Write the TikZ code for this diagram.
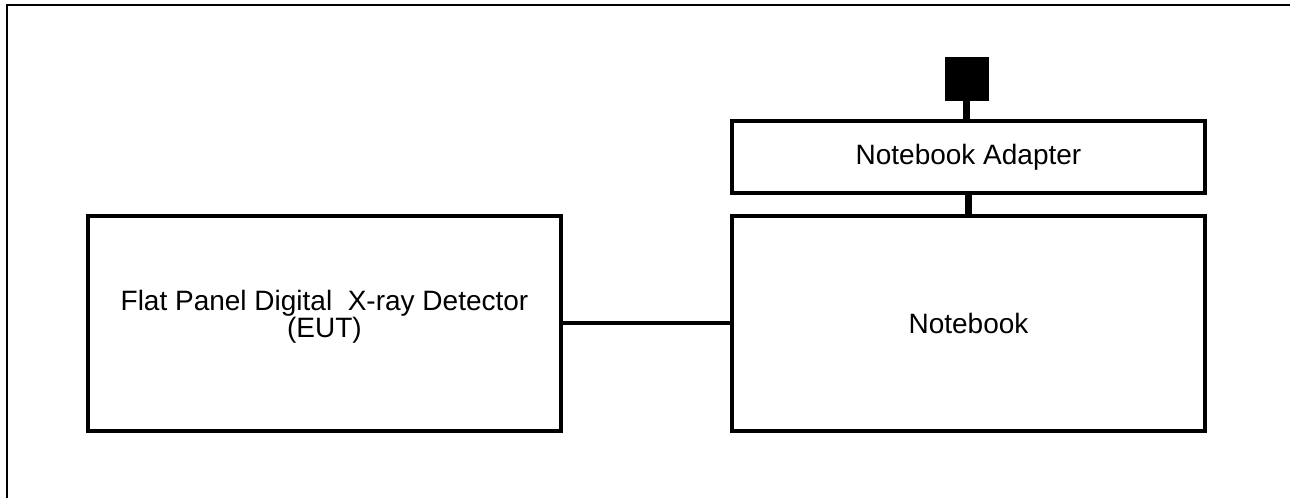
\documentclass[tikz,border=0pt]{standalone}
\usepackage{fontspec}
\setmainfont{Liberation Sans}
\begin{document}
\begin{tikzpicture}[x=0.75pt,y=-0.75pt,
  box/.style={draw=black,line width=3pt,fill=white,inner sep=0pt,outer sep=0pt,
    minimum width=354.75pt,align=center,font=\fontsize{21}{20}\selectfont},
  wire/.style={line width=3pt},
  stem/.style={line width=5pt},
  frame/.style={line width=1.5pt}]
\useasboundingbox (0,0) rectangle (1290,498);
\draw[frame] (7,498) -- (7,5) -- (1290,5);
\node[box,minimum height=161.25pt] (eut) at (324.5,323.5) {Flat Panel Digital\ \ X-ray Detector\\(EUT)\\[-6pt]\mbox{}};
\node[box,minimum height=161.25pt] (nb) at (968.5,323.5) {Notebook};
\node[box,minimum height=54pt] (ad) at (968.5,157) {Notebook Adapter};
\node[draw=black,fill=black,inner sep=0pt,outer sep=0pt,minimum size=32.25pt] (plug) at (966.5,78.5) {};
\draw[wire] (eut.east) -- (nb.west);
\draw[stem] (plug.south) -- (plug.south |- ad.north);
\draw[stem] (ad.south) -- (nb.north);
\end{tikzpicture}
\end{document}
